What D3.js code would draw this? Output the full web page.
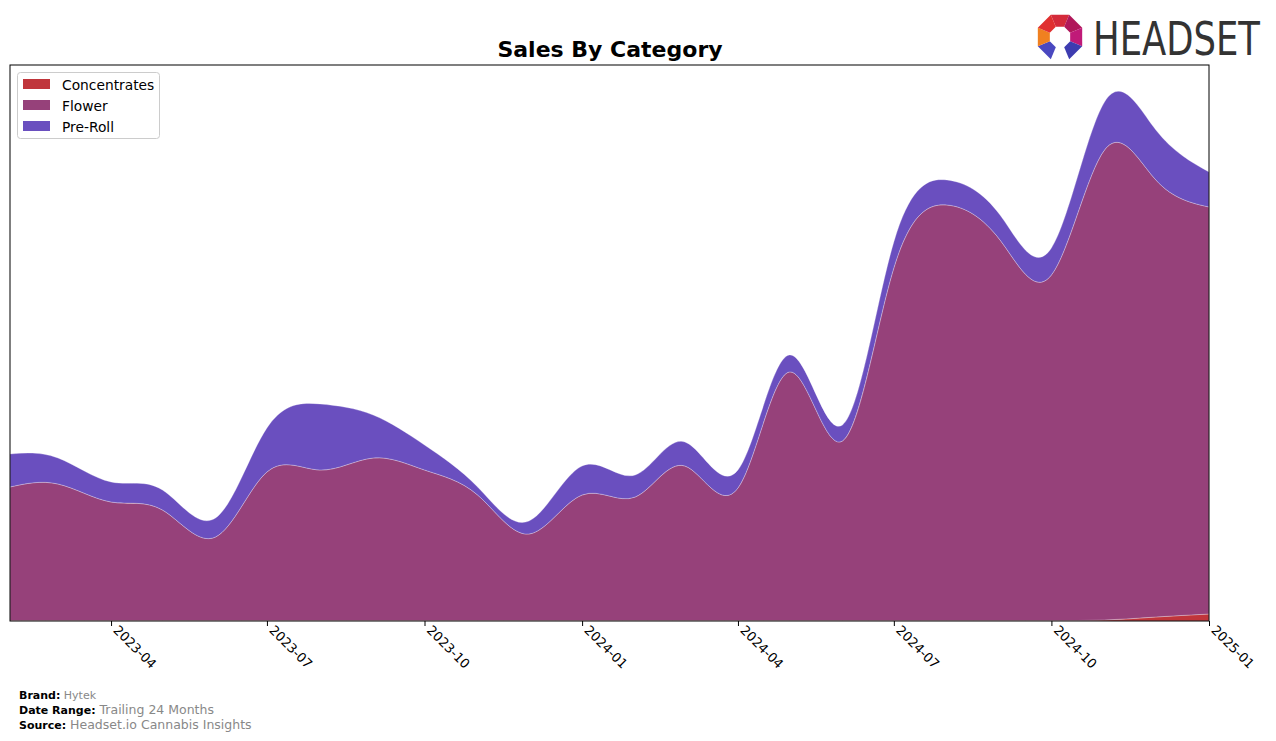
<!DOCTYPE html>
<html><head><meta charset="utf-8">
<script src="https://cdn.jsdelivr.net/npm/d3@7"></script>
<style>body{margin:0;background:#fff;font-family:"DejaVu Sans",sans-serif;}</style>
</head><body><svg id="c" width="1276" height="741"></svg>
<script>
const months = ["2023-02","2023-03","2023-04","2023-05","2023-06","2023-07","2023-08","2023-09","2023-10","2023-11","2023-12","2024-01","2024-02","2024-03","2024-04","2024-05","2024-06","2024-07","2024-08","2024-09","2024-10","2024-11","2024-12","2025-01"];
const concentrates = [0.5,0.5,0.5,0.5,0.5,0.5,0.5,0.5,0.5,0.5,0.5,0.5,0.5,0.5,0.5,0.5,0.5,0.5,0.5,0.5,0.5,1,4,7];
const flower = [133.5,136.5,118.5,110.5,83.5,148.5,150.5,162.5,150.5,125.5,86.5,125.5,123.5,154.5,132.5,248.5,179.5,352.5,415.5,380.5,345.5,470,437,407];
const preRoll = [33,26,20,20,19,44,66,43,25,8,13,29,22,24,18,17,16,26,25,25,27,48,50,35];
const tickLabels = ["2023-04","2023-07","2023-10","2024-01","2024-04","2024-07","2024-10","2025-01"];
const seriesNames = ["Concentrates","Flower","Pre-Roll"];
const colors = ["#c0353b","#96417a","#6a4fbf"];

const svg = d3.select("#c");
const L=10,R=1209,T=65,B=621;
const parse = d3.timeParse("%Y-%m");
const x = d3.scaleTime().domain([parse(months[0]), parse(months[months.length-1])]).range([L,R]);
const y = d3.scaleLinear().domain([0,556]).range([B,T]);

const rows = months.map((m,i)=>({date:parse(m),Concentrates:concentrates[i],Flower:flower[i],"Pre-Roll":preRoll[i]}));
const stack = d3.stack().keys(seriesNames)(rows);
const area = d3.area().x(d=>x(d.data.date)).y0(d=>y(d[0])).y1(d=>y(d[1])).curve(d3.curveNatural);

svg.append("defs").append("clipPath").attr("id","clip").append("rect").attr("x",L).attr("y",T).attr("width",R-L).attr("height",B-T);
const g = svg.append("g").attr("clip-path","url(#clip)");
g.selectAll("path.a").data(stack).join("path").attr("class","a")
  .attr("d",area).attr("fill",(d,i)=>colors[i])
  .attr("stroke","rgba(255,255,255,0.35)").attr("stroke-width",0.8);

// frame
svg.append("rect").attr("x",L).attr("y",T).attr("width",R-L).attr("height",B-T).attr("fill","none").attr("stroke","#000").attr("stroke-width",1);

// x axis
const xa = svg.append("g").attr("transform",`translate(0,${B})`)
  .call(d3.axisBottom(x).tickValues(tickLabels.map(parse)).tickFormat(d3.timeFormat("%Y-%m")).tickSize(5).tickSizeOuter(0));
xa.select(".domain").remove();
xa.selectAll("line").attr("stroke","#000");
xa.selectAll("text").attr("font-family","DejaVu Sans").attr("font-size",13).attr("fill","#000")
  .attr("text-anchor","start").attr("dy",null).attr("y",0)
  .attr("transform","translate(1,10) rotate(45)");

// title
svg.append("text").attr("x",610).attr("y",57).attr("text-anchor","middle").attr("font-weight","bold").attr("font-size",22).attr("font-family","DejaVu Sans").text("Sales By Category");

// legend
const lg = svg.append("g");
lg.append("rect").attr("x",17.5).attr("y",72.5).attr("width",142).attr("height",66).attr("rx",3).attr("fill","#fff").attr("stroke","#ccc");
seriesNames.forEach((n,i)=>{
  lg.append("rect").attr("x",23).attr("y",79+i*21).attr("width",27).attr("height",10).attr("fill",colors[i]);
  lg.append("text").attr("x",62).attr("y",89.5+i*21).attr("font-size",13.8).attr("font-family","DejaVu Sans").text(n);
});

// footer
const foot = [["Brand:","Hytek",11],["Date Range:","Trailing 24 Months",12.5],["Source:","Headset.io Cannabis Insights",12.5]];
foot.forEach((f,i)=>{
  const t = svg.append("text").attr("x",19).attr("y",699+i*15).attr("font-family","DejaVu Sans");
  t.append("tspan").attr("font-weight","bold").attr("fill","#000").attr("font-size",11).text(f[0]);
  t.append("tspan").attr("fill","#888").attr("font-size",f[2]).text(" "+f[1]);
});

// logo
const lgG = svg.append("g").attr("transform","translate(1060,37)");
const segCols = ["#d42a3a","#b0175a","#c01a78","#3d3cb0",null,"#4a48c0","#f08020","#e03030"];
const Ro=24,Ri=11;
for(let k=0;k<8;k++){
  if(!segCols[k]) continue;
  const a0=(-112.5+k*45)*Math.PI/180, a1=(-67.5+k*45)*Math.PI/180;
  const p=(a,r)=>[Math.cos(a)*r,Math.sin(a)*r];
  const A=p(a0,Ro),Bq=p(a1,Ro),C=p(a1,Ri),D=p(a0,Ri);
  lgG.append("path").attr("d",`M${A}L${Bq}L${C}L${D}Z`).attr("fill",segCols[k]);
}
svg.append("text").attr("transform","translate(1093,55) scale(0.77,1)").attr("font-family","DejaVu Sans").attr("font-size",46).attr("fill","#333")
  .text("HEADSET");
</script></body></html>
